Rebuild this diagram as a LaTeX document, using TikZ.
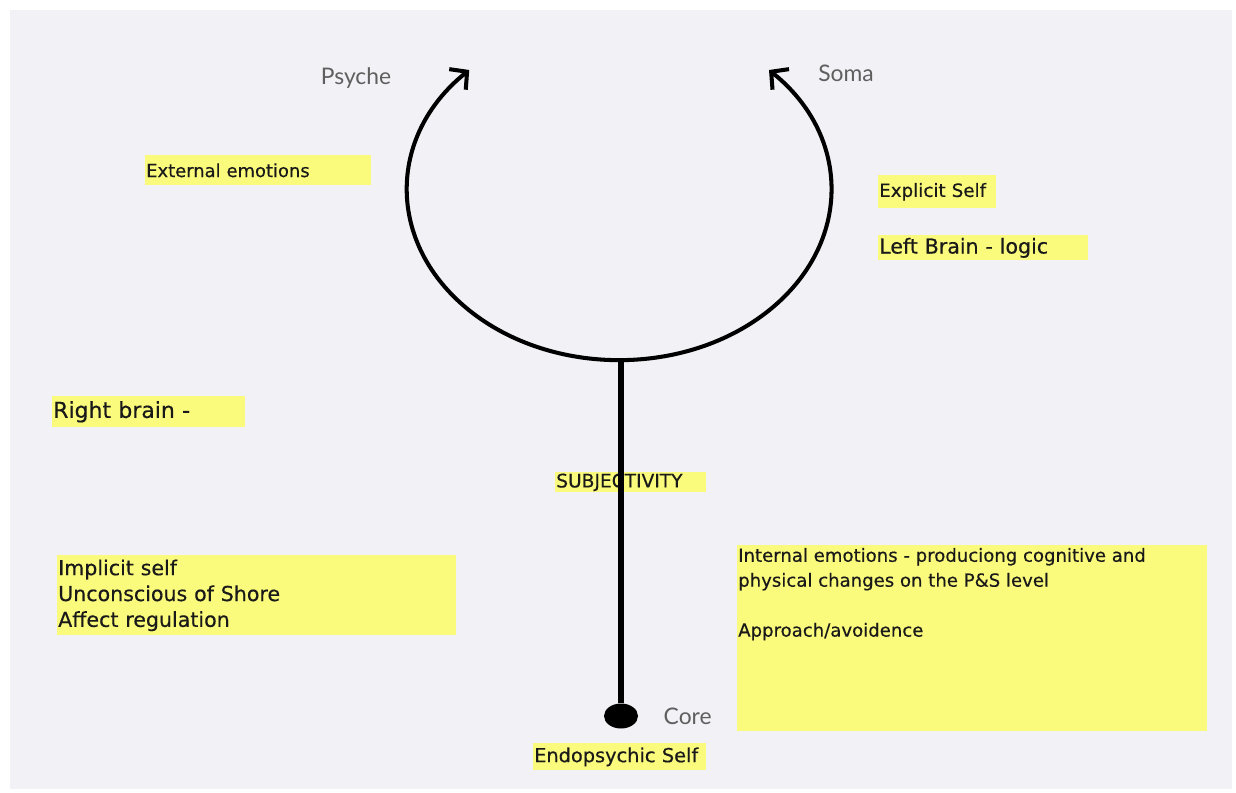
\documentclass[tikz,border=0pt]{standalone}
\usepackage{fontspec}
\setmainfont{DejaVu Sans}[FakeBold=0.4]
\newfontfamily\polefont{Lato}
\usetikzlibrary{arrows.meta, positioning, shapes.geometric}
\definecolor{paperbg}{RGB}{241,241,246}
\definecolor{notefill}{RGB}{250,250,125}
\definecolor{polegrey}{RGB}{95,95,95}

\begin{document}
\begin{tikzpicture}[
    x=0.02cm, y=-0.02cm,
    note/.style={fill=notefill, anchor=north west, align=left, inner xsep=0.5pt, inner ysep=0pt, text=black!90},
    pole/.style={text=polegrey, font=\polefont\fontsize{13}{15}\selectfont, inner sep=0pt},
    loopline/.style={line width=2.3pt, {Straight Barb[length=7pt,width=15pt]}-{Straight Barb[length=7pt,width=15pt]}},
    stem/.style={line width=3.8pt},
    dot/.style={ellipse, fill=black, inner sep=0pt, minimum width=0.68cm, minimum height=0.5cm}
]
    \useasboundingbox (0,0) rectangle (1236,792);
    \fill[paperbg] (10,10) rectangle (1232,789);

    % notes
    \node[note, text width=4.48cm, minimum height=0.6cm, font=\fontsize{10.2}{12}\selectfont] (external) at (145,155) {External emotions};
    \node[note, text width=2.32cm, minimum height=0.66cm, font=\fontsize{10.4}{12}\selectfont] (explicit) at (878,175) {Explicit Self};
    \node[note, text width=4.16cm, minimum height=0.5cm, font=\fontsize{11.7}{13}\selectfont] (leftbrain) at (878,235) {Left Brain - logic};
    \node[note, text width=3.82cm, minimum height=0.62cm, font=\fontsize{12.5}{14}\selectfont] (rightbrain) at (52,396) {Right brain -};
    \node[note, text width=2.98cm, minimum height=0.4cm, font=\fontsize{10.6}{12}\selectfont] (subjectivity) at (555,472) {SUBJECTIVITY};
    \node[note, text width=7.94cm, minimum height=1.6cm, font=\fontsize{11.7}{14.7}\selectfont] (implicit) at (57,555)
        {Implicit self\\Unconscious of Shore\\Affect regulation};
    \node[note, inner ysep=1.5pt, font=\fontsize{10.3}{14.2}\selectfont] (internal) at (737,545)
        {\parbox[t][3.6cm][t]{9.36cm}{Internal emotions - produciong cognitive and\\physical changes on the P\&S level\\[14.2pt]Approach/avoidence}};
    \node[note, text width=3.42cm, minimum height=0.54cm, font=\fontsize{11}{13}\selectfont] (endopsychic) at (533,743) {Endopsychic Self};

    % loop and stem
    \coordinate (somatip) at (769,70);
    \coordinate (loop) at (621,360);
    \node[dot] (core) at (621,716) {};
    \draw[loopline] (somatip) arc[start angle=45, end angle=-225, x radius=4.24cm, y radius=3.4cm];
    \draw[stem] (loop) -- (core);

    \node[pole] (psyche) at (356,78) {Psyche};
    \node[pole] (soma) at (846,73) {Soma};
    \node[pole, right=0.5cm of core] (corelabel) {Core};
\end{tikzpicture}
\end{document}
